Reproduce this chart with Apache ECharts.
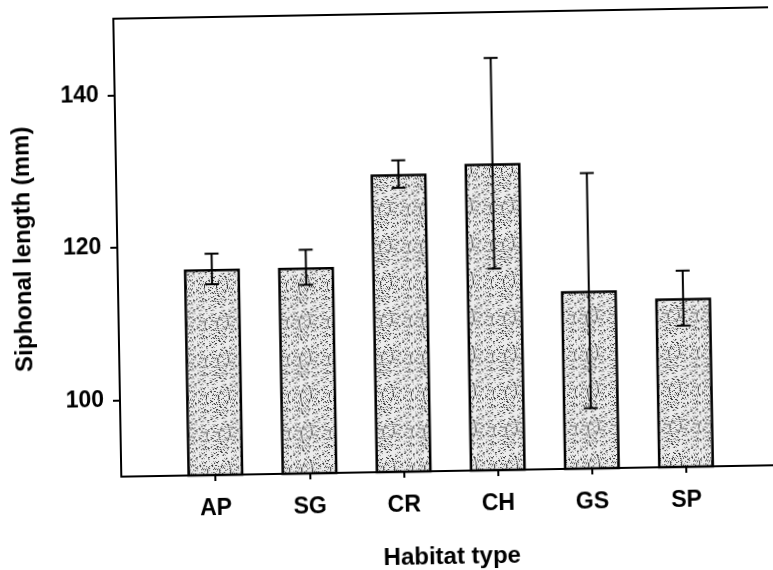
<!DOCTYPE html>
<html>
<head>
<meta charset="utf-8">
<script src="https://cdn.jsdelivr.net/npm/echarts@6/dist/echarts.min.js"></script>
<style>
  html, body { margin: 0; padding: 0; background: #fff; overflow: hidden; }
  /* the scanned figure is slightly tilted */
  #chart { width: 773px; height: 570px; transform: rotate(-1deg); }
</style>
</head>
<body>
<div id="chart"></div>
<script>
// habitat categories
var habitats = ['AP', 'SG', 'CR', 'CH', 'GS', 'SP'];
// mean siphonal length (mm)
var means = [117.0, 117.0, 129.0, 130.2, 113.3, 112.1];
// error (+/-)
var errors = [2.0, 2.3, 1.8, 13.8, 15.4, 3.6];
// y tick labels
var yTicks = [100, 120, 140];

// padded category list so bars sit one step from the y axis
var cats = [''].concat(habitats, ['']);
var barData = [null].concat(means, [null]);
var errData = habitats.map(function (h, i) {
  return [i + 1, means[i] - errors[i], means[i] + errors[i]];
});

// stippled fill like the printed figure (fixed hash pattern)
function stipple() {
  var c = document.createElement('canvas');
  c.width = 41; c.height = 37;
  var ctx = c.getContext('2d');
  ctx.fillStyle = '#ececec';
  ctx.fillRect(0, 0, 41, 37);
  for (var x = 0; x < 41; x++) {
    for (var y = 0; y < 37; y++) {
      var h = (x * 37 + y * 61 + x * y * 13 + x * x * 7) % 29;
      if (h < 4) { ctx.fillStyle = '#3a3a3a'; ctx.fillRect(x, y, 1, 1); }
      else if (h < 8) { ctx.fillStyle = '#9a9a9a'; ctx.fillRect(x, y, 1, 1); }
    }
  }
  return c;
}

var fontFam = '"Liberation Sans", Arial, sans-serif';
var myChart = echarts.init(document.getElementById('chart'));

var option = {
  animation: false,
  grid: { left: 118, right: -4, top: 14, bottom: 98, outerBoundsMode: 'none' },
  xAxis: [
    {
      type: 'category',
      data: cats,
      boundaryGap: false,
      name: 'Habitat type',
      nameLocation: 'middle',
      nameGap: 74,
      nameTextStyle: { color: '#000', fontWeight: 'bold', fontSize: 24, fontFamily: fontFam },
      axisLine: { lineStyle: { color: '#000', width: 2 } },
      axisTick: {
        length: 6,
        lineStyle: { color: '#000', width: 2 },
        interval: function (i, v) { return v !== ''; }
      },
      axisLabel: { color: '#000', fontWeight: 'bold', fontSize: 23, fontFamily: fontFam, margin: 22 },
      splitLine: { show: false }
    },
    {
      type: 'category',
      data: cats,
      boundaryGap: false,
      position: 'top',
      axisLine: { lineStyle: { color: '#000', width: 2 } },
      axisTick: { show: false },
      axisLabel: { show: false }
    }
  ],
  yAxis: {
    type: 'value',
    min: 90,
    max: 150,
    name: 'Siphonal length (mm)',
    nameLocation: 'middle',
    nameGap: 82,
    nameTextStyle: { color: '#000', fontWeight: 'bold', fontSize: 24, fontFamily: fontFam },
    axisLine: { show: true, lineStyle: { color: '#000', width: 2 } },
    axisTick: { show: true, length: 7, customValues: yTicks, lineStyle: { color: '#000', width: 2 } },
    axisLabel: { color: '#000', fontWeight: 'bold', fontSize: 23, fontFamily: fontFam, margin: 16, customValues: yTicks },
    splitLine: { show: false }
  },
  series: [
    {
      type: 'bar',
      data: barData,
      barWidth: 56,
      itemStyle: {
        color: { image: stipple(), repeat: 'repeat' },
        borderColor: '#000',
        borderWidth: 2.5
      }
    },
    {
      type: 'custom',
      data: errData,
      z: 5,
      renderItem: function (params, api) {
        var lo = api.coord([api.value(0), api.value(1)]);
        var hi = api.coord([api.value(0), api.value(2)]);
        var cap = 7;
        var st = { stroke: '#000', lineWidth: 2 };
        return {
          type: 'group',
          children: [
            { type: 'line', shape: { x1: hi[0], y1: hi[1], x2: lo[0], y2: lo[1] }, style: st },
            { type: 'line', shape: { x1: hi[0] - cap, y1: hi[1], x2: hi[0] + cap, y2: hi[1] }, style: st },
            { type: 'line', shape: { x1: lo[0] - cap, y1: lo[1], x2: lo[0] + cap, y2: lo[1] }, style: st }
          ]
        };
      }
    }
  ]
};

myChart.setOption(option);
</script>
</body>
</html>
